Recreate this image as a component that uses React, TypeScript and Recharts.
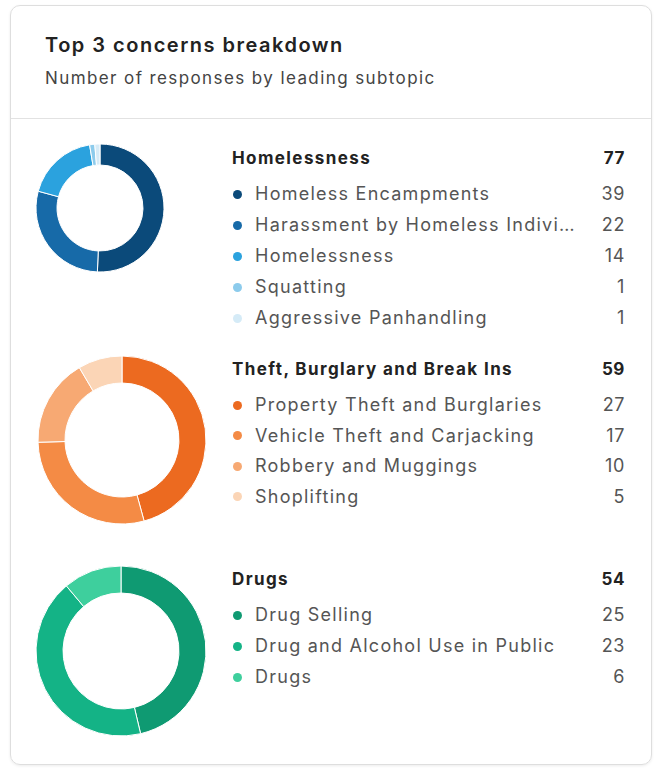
import { PieChart, Pie, Cell } from "recharts";

// three concern groups
const groupNames = ["Homelessness", "Theft, Burglary and Break Ins", "Drugs"];
const groupTotals = [77, 59, 54];

const homelessLabels = ["Homeless Encampments", "Harassment by Homeless Individuals", "Homelessness", "Squatting", "Aggressive Panhandling"];
const homelessValues = [39, 22, 14, 1, 1];
const homelessColors = ["#0b4a7a", "#176aa8", "#2ba2de", "#8ccbec", "#d5ebf7"];

const theftLabels = ["Property Theft and Burglaries", "Vehicle Theft and Carjacking", "Robbery and Muggings", "Shoplifting"];
const theftValues = [27, 17, 10, 5];
const theftColors = ["#ec6a20", "#f48b45", "#f7a973", "#fbd5b6"];

const drugLabels = ["Drug Selling", "Drug and Alcohol Use in Public", "Drugs"];
const drugValues = [25, 23, 6];
const drugColors = ["#0f9a72", "#14b386", "#3ecf9d"];

const FONT = "Inter, 'Noto Sans', sans-serif";

interface Section {
  name: string;
  total: number;
  labels: string[];
  values: number[];
  colors: string[];
  cx: number;
  cy: number;
  outer: number;
  inner: number;
  headerY: number;
  step: number;
}

const sections: Section[] = [
  { name: groupNames[0], total: groupTotals[0], labels: homelessLabels, values: homelessValues, colors: homelessColors, cx: 100, cy: 208, outer: 64, inner: 43, headerY: 158, step: 31 },
  { name: groupNames[1], total: groupTotals[1], labels: theftLabels, values: theftValues, colors: theftColors, cx: 122, cy: 440, outer: 84, inner: 57, headerY: 369, step: 30.5 },
  { name: groupNames[2], total: groupTotals[2], labels: drugLabels, values: drugValues, colors: drugColors, cx: 121, cy: 651, outer: 85, inner: 58, headerY: 579, step: 31 },
];

function Donut({ s }: { s: Section }) {
  const data = s.labels.map((label, i) => ({ name: label, value: s.values[i] }));
  const size = s.outer * 2 + 8;
  return (
    <div style={{ position: "absolute", left: s.cx - size / 2, top: s.cy - size / 2 }}>
      <PieChart width={size} height={size}>
        <Pie
          data={data}
          dataKey="value"
          cx="50%"
          cy="50%"
          innerRadius={s.inner}
          outerRadius={s.outer}
          startAngle={90}
          endAngle={-270}
          stroke="#ffffff"
          strokeWidth={1}
          isAnimationActive={false}
        >
          {data.map((d, i) => (
            <Cell key={d.name} fill={s.colors[i]} />
          ))}
        </Pie>
      </PieChart>
    </div>
  );
}

function Legend({ s }: { s: Section }) {
  return (
    <div style={{ position: "absolute", left: 232, top: s.headerY - 14, width: 393, fontFamily: FONT }}>
      <div style={{ display: "flex", justifyContent: "space-between", height: 28, lineHeight: "28px", fontSize: 17, fontWeight: 700, letterSpacing: 1.4, color: "#222" }}>
        <span>{s.name}</span>
        <span style={{ letterSpacing: 0.6 }}>{s.total}</span>
      </div>
      {s.labels.map((label, i) => (
        <div
          key={label}
          style={{
            position: "absolute",
            top: 36 + i * s.step,
            left: 0,
            width: 393,
            height: 28,
            lineHeight: "28px",
            display: "flex",
            alignItems: "center",
            fontSize: 18,
            letterSpacing: 1.25,
            color: "#555",
          }}
        >
          <span style={{ width: 9, height: 9, borderRadius: "50%", background: s.colors[i], marginLeft: 1, marginRight: 13, flexShrink: 0 }} />
          <span style={{ width: 322, whiteSpace: "nowrap", overflow: "hidden", textOverflow: "ellipsis" }}>{label}</span>
          <span style={{ flex: 1, textAlign: "right", letterSpacing: 0.6 }}>{s.values[i]}</span>
        </div>
      ))}
    </div>
  );
}

export default function App() {
  return (
    <div style={{ position: "absolute", left: 0, top: 0, width: 659, height: 773, background: "#fff", fontFamily: FONT }}>
      <div
        style={{
          position: "absolute",
          left: 10,
          top: 5,
          width: 640,
          height: 758,
          border: "1px solid #dedede",
          borderRadius: 10,
          boxShadow: "0 1px 3px rgba(0,0,0,0.08)",
        }}
      >
        <div style={{ height: 112, borderBottom: "1px solid #e2e2e2" }}>
          <div style={{ position: "absolute", left: 34, top: 27, fontSize: 20, fontWeight: 600, letterSpacing: 1.5, color: "#222" }}>Top 3 concerns breakdown</div>
          <div style={{ position: "absolute", left: 34, top: 62, fontSize: 17, color: "#444", letterSpacing: 1.4 }}>Number of responses by leading subtopic</div>
        </div>
      </div>
      {sections.map((s) => (
        <div key={s.name}>
          <Donut s={s} />
          <Legend s={s} />
        </div>
      ))}
    </div>
  );
}
